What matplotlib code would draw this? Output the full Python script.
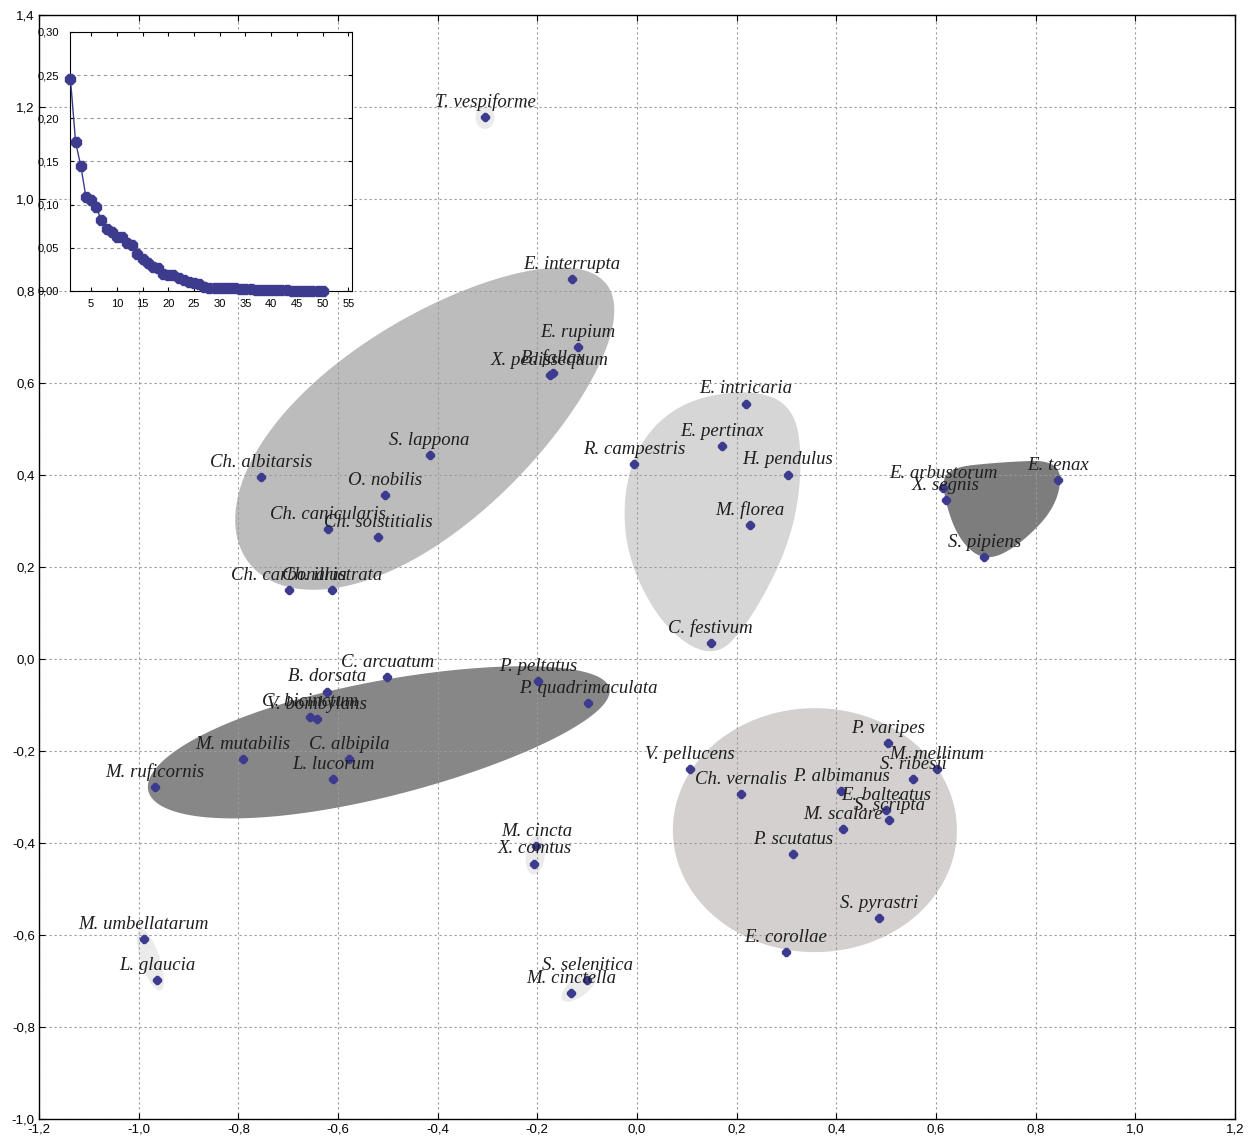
import numpy as np
import matplotlib
matplotlib.use("Agg")
import matplotlib.pyplot as plt
from matplotlib.patches import Polygon
from matplotlib.ticker import FuncFormatter

# species scores on the two ordination axes
species = ["T. vespiforme", "E. interrupta", "E. rupium", "X. pedissequum", "B. fallax",
           "S. lappona", "Ch. albitarsis", "O. nobilis", "Ch. canicularis", "Ch. solstitialis",
           "Ch. carbonaria", "Ch. illustrata", "R. campestris", "E. intricaria", "E. pertinax",
           "H. pendulus", "M. florea", "C. festivum", "E. arbustorum", "X. segnis",
           "E. tenax", "S. pipiens", "C. arcuatum", "B. dorsata", "C. bicinctum",
           "V. bombylans", "P. peltatus", "P. quadrimaculata", "M. mutabilis", "C. albipila",
           "L. lucorum", "M. ruficornis", "V. pellucens", "Ch. vernalis", "P. albimanus",
           "P. varipes", "M. mellinum", "S. ribesii", "E. balteatus", "S. scripta",
           "M. scalare", "P. scutatus", "S. pyrastri", "E. corollae", "M. cincta",
           "X. comtus", "M. umbellatarum", "L. glaucia", "S. selenitica", "M. cinctella"]
dim1 = [-0.305, -0.131, -0.118, -0.175, -0.169,
        -0.416, -0.755, -0.506, -0.620, -0.520,
        -0.699, -0.612, -0.005, 0.218, 0.171,
        0.303, 0.227, 0.148, 0.614, 0.620,
        0.845, 0.697, -0.501, -0.622, -0.656,
        -0.642, -0.199, -0.098, -0.791, -0.577,
        -0.610, -0.968, 0.106, 0.209, 0.410,
        0.504, 0.602, 0.554, 0.500, 0.506,
        0.414, 0.313, 0.486, 0.299, -0.202,
        -0.206, -0.990, -0.963, -0.100, -0.132]
dim2 = [1.178, 0.826, 0.678, 0.617, 0.622,
        0.443, 0.396, 0.357, 0.283, 0.265,
        0.150, 0.150, 0.423, 0.555, 0.462,
        0.401, 0.291, 0.035, 0.372, 0.346,
        0.389, 0.222, -0.040, -0.071, -0.125,
        -0.130, -0.048, -0.096, -0.217, -0.217,
        -0.261, -0.278, -0.239, -0.293, -0.287,
        -0.183, -0.239, -0.261, -0.328, -0.350,
        -0.370, -0.424, -0.563, -0.637, -0.407,
        -0.445, -0.609, -0.698, -0.698, -0.726]

# eigenvalues for the inset scree plot
eig_n = list(range(1, 51))
eig_val = [0.245, 0.172, 0.145, 0.109, 0.105, 0.097, 0.082, 0.072, 0.068, 0.063,
           0.062, 0.055, 0.053, 0.043, 0.037, 0.032, 0.028, 0.027, 0.020, 0.019,
           0.018, 0.015, 0.013, 0.010, 0.009, 0.008, 0.005, 0.004, 0.004, 0.004,
           0.003, 0.003, 0.003, 0.002, 0.002, 0.002, 0.001, 0.001, 0.001, 0.001,
           0.001, 0.001, 0.001, 0.000, 0.000, 0.000, 0.000, 0.000, 0.000, 0.000]

# small pale groups (member species)
small_groups = [["T. vespiforme"], ["M. cincta", "X. comtus"],
                ["M. umbellatarum", "L. glaucia"], ["S. selenitica", "M. cinctella"]]

dot_color = "#3c3b8e"
K = 0.924  # y/x pixel ratio of the axes


def blob(cx, cy, a, b, ang, egg=0.0, n=200):
    t = np.linspace(0, 2 * np.pi, n)
    u = a * np.cos(t)
    v = b * np.sin(t) * (1 + egg * np.cos(t))
    r = np.radians(ang)
    x = cx + u * np.cos(r) - v * np.sin(r)
    y = cy * K + u * np.sin(r) + v * np.cos(r)
    return np.column_stack([x, y / K])


def chaikin(pts, n=4):
    pts = np.asarray(pts, float)
    for _ in range(n):
        q = np.roll(pts, -1, axis=0)
        pts = np.column_stack([0.75 * pts + 0.25 * q, 0.25 * pts + 0.75 * q]).reshape(-1, 2)
    return pts


def fmt(v, p, d=1):
    if abs(v) < 1e-9:
        v = 0.0
    return ("%.*f" % (d, v)).replace(".", ",")


fig = plt.figure(figsize=(12.54, 11.42), dpi=100)
ax = fig.add_axes([0.0311, 0.0201, 0.9537, 0.9668])
ax.set_xlim(-1.2, 1.2)
ax.set_ylim(-1.0, 1.4)
ax.set_xticks(np.arange(-1.2, 1.21, 0.2))
ax.set_yticks(np.arange(-1.0, 1.41, 0.2))
ax.xaxis.set_major_formatter(FuncFormatter(fmt))
ax.yaxis.set_major_formatter(FuncFormatter(fmt))
ax.tick_params(direction="in", top=True, right=True, length=4, labelsize=9.5,
               labelfontfamily="Liberation Sans", pad=3)
ax.set_axisbelow("line")
ax.grid(True, color="#9a9a9a", linestyle=(0, (2, 2.5)), linewidth=0.8)
for s in ax.spines.values():
    s.set_linewidth(1.0)

# group hulls
shapes = [
    (blob(-0.420, 0.512, 0.455, 0.205, 38, egg=-0.15), "#bcbcbc"),
    (chaikin([(0.217, 0.589), (0.317, 0.552), (0.333, 0.411), (0.307, 0.248),
              (0.223, 0.074), (0.151, -0.002), (0.046, 0.074), (-0.030, 0.248),
              (-0.018, 0.433), (0.070, 0.552)]), "#d6d6d6"),
    (blob(-0.518, -0.175, 0.474, 0.116, 12.5, egg=-0.1), "#878787"),
    (blob(0.357, -0.372, 0.285, 0.245, 0), "#d4d0cf"),
    (chaikin([(0.618, 0.415), (0.729, 0.428), (0.853, 0.433), (0.845, 0.335),
              (0.769, 0.248), (0.699, 0.211), (0.645, 0.259), (0.614, 0.357)]), "#7d7d7d"),
]
for pts, col in shapes:
    ax.add_patch(Polygon(pts, closed=True, facecolor=col, edgecolor="none", zorder=0.8))

idx = {s: i for i, s in enumerate(species)}
for grp in small_groups:
    xs = np.array([dim1[idx[g]] for g in grp])
    ys = np.array([dim2[idx[g]] for g in grp]) * K
    cx, cy = xs.mean(), ys.mean()
    if len(grp) == 1:
        a, ang = 0.024, 90
    else:
        a = np.hypot(np.ptp(xs), np.ptp(ys)) / 2 + 0.022
        ang = np.degrees(np.arctan2(ys[1] - ys[0], xs[1] - xs[0]))
    ax.add_patch(Polygon(blob(cx, cy / K, a, 0.019, ang), closed=True,
                         facecolor="#ebebeb", edgecolor="none", zorder=0.8))

ax.plot(dim1, dim2, linestyle="none", marker="8", markersize=5.5, color=dot_color, zorder=3)
for name, x, y in zip(species, dim1, dim2):
    ax.annotate(name, (x, y), xytext=(0, 4.5), textcoords="offset points",
                ha="center", va="bottom", fontsize=13.5, style="italic",
                family="Liberation Serif", color="#1e1e1e", zorder=4)

# inset scree plot
ins = fig.add_axes([0.0558, 0.7452, 0.2249, 0.2268])
ins.plot(eig_n, eig_val, color=dot_color, linewidth=1.0, marker="8", markersize=8,
         clip_on=False, zorder=3)
ins.set_xlim(0.9, 55.7)
ins.set_ylim(0, 0.30)
ins.set_xticks(range(5, 56, 5))
ins.set_yticks(np.arange(0, 0.301, 0.05))
ins.yaxis.set_major_formatter(FuncFormatter(lambda v, p: fmt(v, p, 2)))
ins.tick_params(direction="in", top=True, right=True, length=3, labelsize=8,
                labelfontfamily="Liberation Sans")
ins.tick_params(axis="x", pad=6)
ins.tick_params(axis="y", pad=8)
ins.grid(True, axis="y", color="#9a9a9a", linestyle=(0, (3, 3)), linewidth=0.8)

fig.savefig("out.png", dpi=100)
